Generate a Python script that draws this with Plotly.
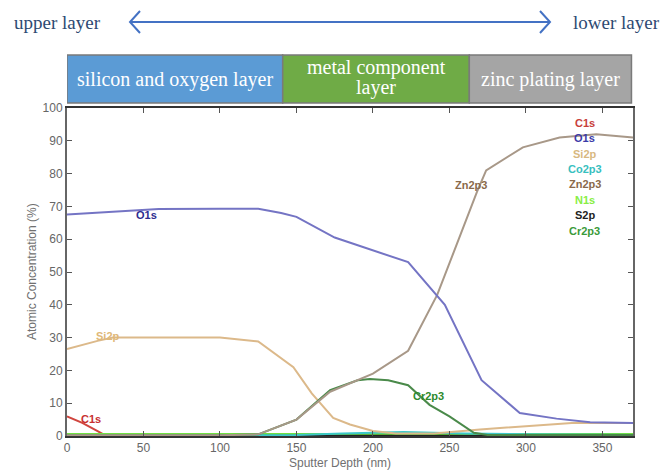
import plotly.graph_objects as go

# ---- data ----
o1s_x = [0, 20, 40, 60, 100, 125, 140, 150, 175, 200, 223, 247, 271, 296, 320, 342, 370]
o1s_y = [67.5, 68, 68.5, 69.2, 69.3, 69.3, 68, 66.8, 60.5, 56.5, 53, 40, 17, 7, 5.3, 4.2, 4]

si2p_x = [0, 20, 30, 60, 100, 125, 148, 160, 174, 185, 200, 215, 240, 270, 300, 330, 370]
si2p_y = [26.5, 29, 30, 30, 30, 28.8, 21, 13, 5.5, 3.5, 1.5, 0.8, 0.8, 2, 3, 4, 4]

zn_x = [0, 100, 125, 150, 172, 200, 223, 242, 268, 274, 298, 322, 346, 370]
zn_y = [0.2, 0.2, 0.5, 5, 13.5, 19, 26, 43, 74.4, 81, 88, 91, 92, 91]

cr_x = [0, 100, 125, 150, 172, 190, 198, 210, 223, 237, 250, 266, 275, 370]
cr_y = [0.2, 0.2, 0.5, 5, 14, 17, 17.4, 17, 15.5, 9.5, 6, 1, 0.3, 0.3]

c1s_x = [0, 10, 20, 25, 100, 200, 300, 370]
c1s_y = [6, 4, 1.5, 0.2, 0.2, 0.3, 0.5, 0.3]

co_x = [0, 150, 180, 220, 260, 300, 370]
co_y = [0.1, 0.3, 0.8, 1.2, 0.8, 0.5, 0.3]

n1s_x = [0, 100, 200, 300, 370]
n1s_y = [0.6, 0.6, 0.8, 0.6, 0.6]

s2p_x = [0, 100, 200, 300, 370]
s2p_y = [0.1, 0.1, 0.2, 0.1, 0.1]

series = [
    ("C1s", c1s_x, c1s_y, "#d0453e"),
    ("N1s", n1s_x, n1s_y, "#6fe040"),
    ("S2p", s2p_x, s2p_y, "#222222"),
    ("Co2p3", co_x, co_y, "#3cc8c8"),
    ("Si2p", si2p_x, si2p_y, "#dcb98a"),
    ("Cr2p3", cr_x, cr_y, "#4a8a4a"),
    ("Zn2p3", zn_x, zn_y, "#a89888"),
    ("O1s", o1s_x, o1s_y, "#7474c4"),
]

legend_names = ["C1s", "O1s", "Si2p", "Co2p3", "Zn2p3", "N1s", "S2p", "Cr2p3"]
legend_colors = ["#c8403a", "#3a3aa8", "#d8b880", "#38c0c0", "#8a6a4a", "#88ee44", "#222222", "#3a9a3a"]

inline_labels = [
    ("O1s", 52, 67.4, "#2c2c90"),
    ("Si2p", 27, 30.5, "#e0b878"),
    ("C1s", 16, 5.3, "#c83030"),
    ("Zn2p3", 264, 76.5, "#8a6a4a"),
    ("Cr2p3", 236, 12.2, "#2e8a2e"),
    ("Co2p3", 209, -0.6, "#30c0c8"),
]

# layer header: (lines of text, start depth, end depth, colour)
layers = [(["silicon and oxygen layer"], 0, 141, "#5b9bd5"),
          (["metal component", "layer"], 141, 263, "#6fab46"),
          (["zinc plating layer"], 263, 369, "#a5a5a5")]

W, L, T, H = 566.0, 67.0, 108.0, 328.0
def px(x):
    return (x - L) / W
def py(y):
    return (T + H - y) / H

fig = go.Figure()
for name, xs, ys, col in series:
    fig.add_trace(go.Scatter(x=xs, y=ys, mode="lines", name=name,
                             line=dict(color=col, width=2), showlegend=False))

for name, x, y, col in inline_labels:
    fig.add_annotation(x=x, y=y, text="<b>" + name + "</b>", showarrow=False,
                       yanchor="middle", xanchor="center",
                       font=dict(family="Arial", size=11, color=col))

for i, (name, col) in enumerate(zip(legend_names, legend_colors)):
    fig.add_annotation(x=0.915, y=0.955 - i * 0.047, xref="paper", yref="paper",
                       text="<b>" + name + "</b>", showarrow=False,
                       yanchor="middle", xanchor="center",
                       font=dict(family="Arial", size=11, color=col))

for lines, x0, x1, col in layers:
    fig.add_shape(type="rect", x0=x0, x1=x1, y0=py(103), y1=py(55), xref="x", yref="paper",
                  fillcolor=col, line=dict(color="#7a7a7a", width=1.5), layer="above")
    if len(lines) == 1:
        ys = [79]
    else:
        ys = [68, 88]
    for t, yy in zip(lines, ys):
        fig.add_annotation(x=(x0 + x1) / 2, y=py(yy), xref="x", yref="paper", text=t,
                           showarrow=False, yanchor="middle", xanchor="center",
                           font=dict(family="Liberation Serif", size=20, color="white"))

# top direction arrow (line with open chevrons), in paper coordinates
ay = 22
arrow_path = (
    f"M {px(130)} {py(ay)} L {px(550)} {py(ay)} "
    f"M {px(540)} {py(ay-11)} L {px(550)} {py(ay)} L {px(540)} {py(ay+11)} "
    f"M {px(140)} {py(ay-11)} L {px(130)} {py(ay)} L {px(140)} {py(ay+11)}"
)
fig.add_shape(type="path", path=arrow_path, xref="paper", yref="paper",
              line=dict(color="#4472c4", width=2))
fig.add_annotation(x=px(12), y=py(ay), xref="paper", yref="paper", text="upper layer",
                   showarrow=False, xanchor="left", yanchor="middle",
                   font=dict(family="Liberation Serif", size=19, color="#2e4a72"))
fig.add_annotation(x=px(662), y=py(ay), xref="paper", yref="paper", text="lower layer",
                   showarrow=False, xanchor="right", yanchor="middle",
                   font=dict(family="Liberation Serif", size=19, color="#2e4a72"))

# axis titles
fig.add_annotation(x=px(32), y=0.5, xref="paper", yref="paper", text="Atomic Concentration (%)",
                   showarrow=False, textangle=-90, xanchor="center", yanchor="middle",
                   font=dict(family="Arial", size=12, color="#707070"))
fig.add_annotation(x=px(340), y=py(463), xref="paper", yref="paper", text="Sputter Depth (nm)",
                   showarrow=False, yanchor="middle", xanchor="center",
                   font=dict(family="Arial", size=12, color="#707070"))

axis_common = dict(showgrid=False, zeroline=False, showline=True, mirror="allticks",
                   ticks="inside", ticklen=5, tickcolor="#555555",
                   tickfont=dict(family="Arial", size=12, color="#666666"))
fig.update_xaxes(range=[0, 370], tickvals=[0, 50, 100, 150, 200, 250, 300, 350],
                 linecolor="#333333", linewidth=2, **axis_common)
fig.update_yaxes(range=[0, 100], tickvals=list(range(0, 101, 10)),
                 linecolor="#666666", linewidth=2, **axis_common)

fig.update_layout(width=665, height=470, margin=dict(l=67, r=32, t=108, b=34),
                  paper_bgcolor="white", plot_bgcolor="white", showlegend=False)

fig.write_html("out.html")
